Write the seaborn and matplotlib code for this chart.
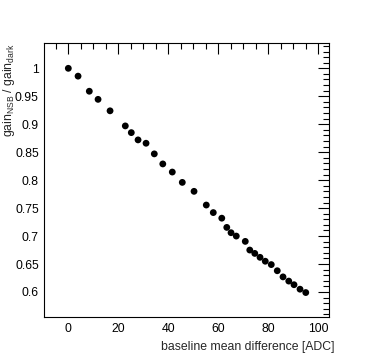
import matplotlib
matplotlib.use("Agg")
import matplotlib.pyplot as plt
from matplotlib.ticker import MultipleLocator
import seaborn as sns
import pandas as pd

# baseline shift vs relative gain
baseline_diff = [0.0, 3.9, 8.4, 11.9, 16.7, 22.8, 25.2, 27.9, 31.1, 34.4,
                 37.8, 41.6, 45.6, 50.3, 55.2, 58.0, 61.4, 63.4, 65.1, 67.2,
                 70.8, 72.6, 74.6, 76.7, 78.8, 81.2, 83.6, 85.9, 88.2, 90.3,
                 92.7, 95.0]
gain_ratio = [1.000, 0.986, 0.959, 0.9445, 0.924, 0.897, 0.885, 0.872, 0.866, 0.847,
              0.829, 0.8145, 0.796, 0.780, 0.7555, 0.742, 0.732, 0.7155, 0.706, 0.700,
              0.6905, 0.675, 0.669, 0.662, 0.655, 0.649, 0.638, 0.627, 0.6195, 0.613,
              0.605, 0.599]

df = pd.DataFrame({"diff": baseline_diff, "ratio": gain_ratio})

sns.set_style("white")
plt.rcParams["font.family"] = ["Liberation Sans", "DejaVu Sans"]
plt.rcParams["mathtext.fontset"] = "custom"
plt.rcParams["mathtext.rm"] = "Liberation Sans"

fig = plt.figure(figsize=(3.74, 3.61), dpi=100)
ax = fig.add_axes([0.1185, 0.121, 0.7612, 0.759])

sns.scatterplot(data=df, x="diff", y="ratio", ax=ax, color="black",
                s=24, edgecolor="none", linewidth=0, legend=False)

ax.set_xlim(-9.6, 104.3)
ax.set_ylim(0.5547, 1.0447)
ax.xaxis.set_major_locator(MultipleLocator(20))
ax.xaxis.set_minor_locator(MultipleLocator(5))
ax.yaxis.set_major_locator(MultipleLocator(0.05))
ax.yaxis.set_minor_locator(MultipleLocator(0.01))
ax.yaxis.set_major_formatter(plt.FuncFormatter(lambda v, p: f"{v:g}"))

ax.tick_params(which="both", direction="in", top=True, right=True,
               labelsize=8.8, colors="black", width=0.8)
ax.tick_params(which="major", length=8, pad=4)
ax.tick_params(which="minor", length=4)
for sp in ax.spines.values():
    sp.set_color("black")
    sp.set_linewidth(0.8)

ax.set_xlabel("baseline mean difference [ADC]", loc="right", fontsize=8.8)
ax.set_ylabel(r"gain$_{\mathrm{NSB}}$ / gain$_{\mathrm{dark}}$", loc="top",
              fontsize=8.8)
ax.xaxis.set_label_coords(1.021, -0.085)
ax.yaxis.set_label_coords(-0.096, 1.0)

fig.savefig("out.png", dpi=100, facecolor="white")
